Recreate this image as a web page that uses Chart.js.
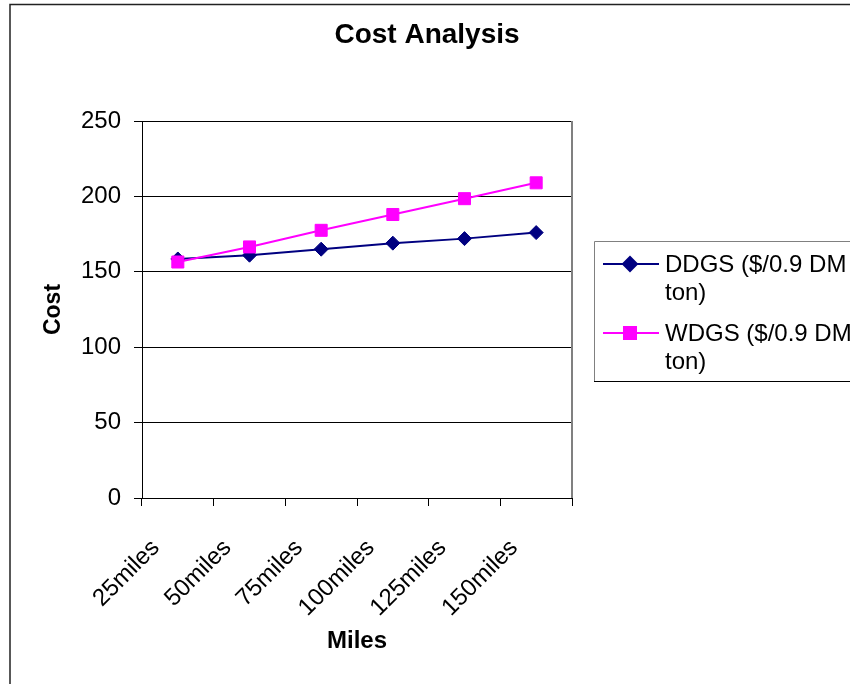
<!DOCTYPE html>
<html>
<head>
<meta charset="utf-8">
<title>Cost Analysis</title>
<script src="https://cdn.jsdelivr.net/npm/chart.js@4/dist/chart.umd.min.js"></script>
<style>
  html, body { margin: 0; padding: 0; background: #fff; }
  canvas { display: block; }
</style>
</head>
<body>
<canvas id="costchart" width="850" height="684"></canvas>
<script>
// data
var categories = ['25miles', '50miles', '75miles', '100miles', '125miles', '150miles'];
var ddgsCost = [158.5, 161, 165, 169, 172, 176];
var wdgsCost = [156.5, 166.5, 177.5, 188, 198.5, 209];
var costTicks = [0, 50, 100, 150, 200, 250];
var ddgsLegend = ['DDGS ($/0.9 DM', 'ton)'];
var wdgsLegend = ['WDGS ($/0.9 DM', 'ton)'];
var chartTitle = 'Cost Analysis';

var FONT = "'Liberation Sans', Arial, Helvetica, sans-serif";

// outer frame, plot right edge, title, legend
var excelLook = {
    id: 'excelLook',
    beforeDraw: function (chart) {
        var ctx = chart.ctx;
        ctx.save();
        ctx.fillStyle = '#fff';
        ctx.fillRect(0, 0, chart.width, chart.height);
        ctx.strokeStyle = '#222';
        ctx.lineWidth = 1.5;
        ctx.strokeRect(10, 4.5, 900, 720);
        ctx.restore();
    },
    afterDraw: function (chart) {
        var ctx = chart.ctx;
        var area = chart.chartArea;
        ctx.save();

        // plot area right border
        ctx.strokeStyle = '#808080';
        ctx.lineWidth = 2;
        ctx.beginPath();
        ctx.moveTo(area.right, area.top);
        ctx.lineTo(area.right, area.bottom);
        ctx.stroke();

        // title
        ctx.fillStyle = '#000';
        ctx.font = 'bold 28px ' + FONT;
        ctx.textAlign = 'center';
        ctx.textBaseline = 'middle';
        ctx.fillText(chartTitle, 427, 35);

        // legend box
        var lx = 594, ly = 241, lb = 381;
        ctx.lineWidth = 1;
        ctx.strokeStyle = '#808080';
        ctx.beginPath();
        ctx.moveTo(lx + 0.5, lb);
        ctx.lineTo(lx + 0.5, ly + 0.5);
        ctx.lineTo(chart.width, ly + 0.5);
        ctx.stroke();
        ctx.strokeStyle = '#000';
        ctx.beginPath();
        ctx.moveTo(lx, lb + 0.5);
        ctx.lineTo(chart.width, lb + 0.5);
        ctx.stroke();

        var items = [
            { ds: chart.data.datasets[0], lines: ddgsLegend, y: 264 },
            { ds: chart.data.datasets[1], lines: wdgsLegend, y: 333 }
        ];
        items.forEach(function (it) {
            ctx.strokeStyle = it.ds.borderColor;
            ctx.lineWidth = 2;
            ctx.beginPath();
            ctx.moveTo(603, it.y);
            ctx.lineTo(659, it.y);
            ctx.stroke();
            Chart.helpers.drawPoint(ctx, {
                pointStyle: it.ds.pointStyle,
                radius: it.ds.pointRadius,
                borderWidth: 1,
                rotation: 0
            }, 630, it.y);
            ctx.fillStyle = it.ds.backgroundColor;
            ctx.strokeStyle = it.ds.borderColor;
            ctx.lineWidth = 1;
            ctx.fill();
            ctx.stroke();

            ctx.fillStyle = '#000';
            ctx.font = '24px ' + FONT;
            ctx.textAlign = 'left';
            ctx.textBaseline = 'middle';
            it.lines.forEach(function (t, i) {
                ctx.fillText(t, 665, it.y + 1 + i * 28);
            });
        });
        ctx.restore();
    }
};

function initCostChart() {
    var canvas = document.getElementById('costchart');
    var ctx = canvas.getContext('2d');

    new Chart(ctx, {
        type: 'line',
        data: {
            labels: categories,
            datasets: [{
                label: ddgsLegend.join(' '),
                data: ddgsCost,
                borderColor: '#000080',
                backgroundColor: '#000080',
                borderWidth: 2,
                pointStyle: 'rectRot',
                pointRadius: 7,
                pointBorderWidth: 1,
                tension: 0,
                order: 1
            }, {
                label: wdgsLegend.join(' '),
                data: wdgsCost,
                borderColor: '#FF00FF',
                backgroundColor: '#FF00FF',
                borderWidth: 2,
                pointStyle: 'rect',
                pointRadius: 8.5,
                pointBorderWidth: 1,
                tension: 0,
                order: 0
            }]
        },
        options: {
            responsive: false,
            animation: false,
            layout: { padding: { top: 121, right: 278, left: 0, bottom: 0 } },
            plugins: {
                legend: { display: false },
                title: { display: false },
                tooltip: { enabled: false }
            },
            scales: {
                x: {
                    offset: true,
                    grid: {
                        offset: true,
                        drawOnChartArea: false,
                        drawTicks: true,
                        tickLength: 8,
                        color: '#000',
                        tickColor: '#000'
                    },
                    border: { color: '#000', width: 1 },
                    ticks: {
                        autoSkip: false,
                        minRotation: 45,
                        maxRotation: 45,
                        labelOffset: -22,
                        padding: 28,
                        color: '#000',
                        font: { family: FONT, size: 24 }
                    },
                    title: {
                        display: true,
                        text: 'Miles',
                        color: '#000',
                        font: { family: FONT, size: 24, weight: 'bold' },
                        padding: { top: 28, bottom: 28 }
                    },
                    afterFit: function (scale) { scale.height = 186; }
                },
                y: {
                    min: 0,
                    max: 250,
                    afterBuildTicks: function (scale) {
                        scale.ticks = costTicks.map(function (v) { return { value: v }; });
                    },
                    grid: {
                        color: '#000',
                        tickColor: '#000',
                        tickLength: 8,
                        lineWidth: 1
                    },
                    border: { color: '#000', width: 1 },
                    ticks: {
                        padding: 13,
                        color: '#000',
                        font: { family: FONT, size: 24 }
                    },
                    title: {
                        display: true,
                        text: 'Cost',
                        color: '#000',
                        font: { family: FONT, size: 23, weight: 'bold' },
                        padding: { top: 40, bottom: 40 }
                    },
                    afterFit: function (scale) { scale.width = 142; }
                }
            }
        },
        plugins: [excelLook]
    });
}

document.addEventListener('DOMContentLoaded', initCostChart);
</script>
</body>
</html>
